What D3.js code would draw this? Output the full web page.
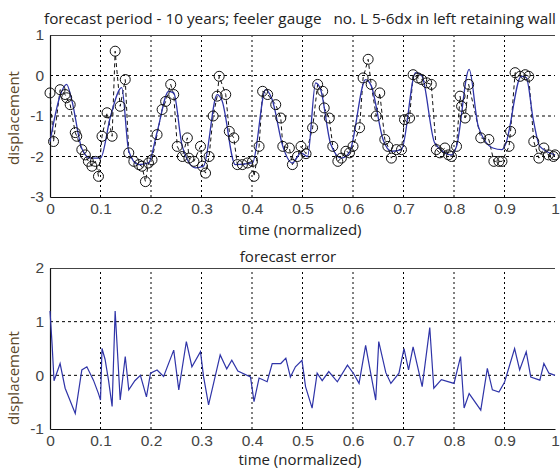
<!DOCTYPE html>
<html>
<head>
<meta charset="utf-8">
<script src="https://d3js.org/d3.v7.min.js"></script>
<style>
  body { margin: 0; background: #fff; }
  text { white-space: pre; }
</style>
</head>
<body>
<script>
// observed displacement (circles + dashed line)
var obsTime = [0,0.007,0.02,0.03,0.033,0.04,0.05,0.053,0.063,0.07,0.076,0.083,0.09,0.096,0.103,0.113,0.123,0.129,0.139,0.149,
  0.156,0.166,0.176,0.182,0.189,0.195,0.202,0.212,0.222,0.229,0.239,0.245,0.252,0.262,0.272,0.275,0.285,0.298,0.302,0.308,
  0.315,0.323,0.331,0.335,0.348,0.355,0.364,0.371,0.381,0.391,0.401,0.404,0.414,0.421,0.431,0.447,0.457,0.461,0.474,0.48,
  0.49,0.497,0.507,0.52,0.53,0.54,0.543,0.553,0.56,0.57,0.577,0.586,0.593,0.6,0.613,0.62,0.63,0.636,0.646,0.653,
  0.663,0.669,0.676,0.686,0.696,0.702,0.712,0.719,0.729,0.736,0.746,0.755,0.765,0.772,0.782,0.789,0.795,0.805,0.812,0.815,
  0.822,0.829,0.853,0.869,0.879,0.889,0.895,0.909,0.912,0.921,0.931,0.941,0.948,0.958,0.968,0.978,0.987,0.997,1.0];
var obsValue = [-0.43,-1.63,-0.35,-0.47,-0.55,-0.72,-1.41,-1.5,-1.83,-1.96,-2.12,-2.24,-2.12,-2.49,-1.5,-0.92,-1.5,0.6,-0.76,-0.1,
  -1.91,-2.12,-2.2,-2.24,-2.62,-2.16,-2.08,-1.46,-0.84,-0.64,-0.22,-0.47,-1.75,-2.0,-1.54,-2.04,-2.12,-1.75,-2.24,-2.41,
  -2.0,-1.0,-0.51,-0.02,-0.47,-1.38,-1.54,-2.2,-2.2,-2.16,-2.12,-2.49,-1.75,-0.39,-0.47,-0.72,-1.05,-1.75,-1.79,-2.2,
  -2.0,-1.75,-1.93,-1.29,-0.22,-0.39,-0.8,-1.05,-1.75,-2.12,-2.04,-1.87,-1.91,-1.75,-1.29,-0.06,0.4,-0.22,-1.0,-0.43,
  -1.58,-1.75,-2.04,-1.83,-1.83,-1.09,-1.05,0.02,-0.06,-0.1,-0.18,-0.22,-1.83,-1.91,-1.79,-1.96,-2.0,-1.75,-0.51,-0.76,
  -1.05,-0.22,-1.54,-1.58,-2.12,-2.12,-2.12,-1.75,-1.38,0.07,-0.02,0.02,-0.02,-1.63,-2.04,-1.79,-1.96,-2.0,-1.96];

// forecast (blue line)
var fcTime = [0,0.02,0.033,0.043,0.063,0.08,0.1,0.12,0.142,0.156,0.175,0.195,0.212,0.235,0.245,0.262,0.288,0.304,0.331,0.34,
  0.367,0.401,0.427,0.44,0.461,0.48,0.497,0.51,0.526,0.536,0.556,0.577,0.593,0.625,0.636,0.66,0.676,0.696,0.724,0.736,
  0.762,0.795,0.805,0.83,0.848,0.877,0.895,0.902,0.933,0.943,0.957,0.97,1.0];
var fcValue = [-1.63,-0.5,-0.22,-0.6,-1.8,-2.04,-2.04,-1.0,-0.3,-1.87,-2.2,-2.16,-1.4,-0.39,-0.43,-1.75,-2.28,-2.24,-0.47,-0.6,
  -2.2,-2.16,-0.35,-0.6,-1.75,-2.16,-1.91,-2.0,-0.18,-0.35,-1.7,-2.04,-1.9,-0.1,-0.25,-1.6,-1.87,-1.83,0.07,0.0,
  -1.67,-1.96,-1.75,0.15,-1.25,-1.79,-1.83,-1.7,-0.02,-0.05,-1.09,-1.75,-1.96];

// forecast error
var errTime = [0,0.004,0.008,0.02,0.03,0.05,0.063,0.073,0.086,0.096,0.1,0.103,0.109,0.116,0.123,0.129,0.139,0.149,0.156,0.168,
  0.179,0.191,0.199,0.212,0.225,0.245,0.255,0.27,0.281,0.298,0.304,0.314,0.337,0.35,0.36,0.372,0.397,0.404,0.414,0.43,
  0.44,0.457,0.467,0.476,0.486,0.499,0.506,0.519,0.529,0.539,0.552,0.569,0.589,0.602,0.612,0.625,0.635,0.645,0.651,0.665,
  0.675,0.691,0.701,0.71,0.719,0.737,0.752,0.76,0.775,0.8,0.813,0.82,0.83,0.853,0.866,0.876,0.889,0.9,0.92,0.93,
  0.943,0.952,0.97,0.978,0.988,1.0];
var errValue = [1.2,0.6,-0.1,0.22,-0.24,-0.71,0.1,0.16,-0.09,-0.34,-0.46,0.5,0.3,-0.1,-0.58,1.2,-0.46,0.35,-0.27,-0.1,
  0.0,-0.4,0.04,0.1,-0.02,0.47,-0.27,0.63,0.16,0.44,-0.02,-0.55,0.38,0.12,0.28,0.08,-0.03,-0.49,-0.05,-0.12,
  0.22,0.22,0.32,-0.03,0.16,0.28,-0.21,-0.61,0.04,-0.1,0.07,-0.12,0.19,0.02,-0.15,0.56,0.04,-0.46,0.63,0.05,
  -0.15,0.04,0.5,0.1,0.53,-0.21,0.89,-0.24,-0.08,-0.15,0.35,-0.61,-0.34,-0.65,0.13,-0.27,-0.31,-0.13,0.5,0.1,
  0.44,-0.03,-0.09,0.22,0.04,0.0];

var xTicks = [0, 0.1, 0.2, 0.3, 0.4, 0.5, 0.6, 0.7, 0.8, 0.9, 1];
var topYTicks = [-3, -2, -1, 0, 1];
var botYTicks = [-1, 0, 1, 2];

var W = 560, H = 468;
var svg = d3.select("body").append("svg").attr("width", W).attr("height", H);

var x = d3.scaleLinear().domain([0, 1]).range([50, 555]);

function panel(yDomain, yRange, yTicks, title, titleX, titleY, titleLen, labelY, xlabelY) {
  var y = d3.scaleLinear().domain(yDomain).range(yRange);
  var g = svg.append("g");

  // grid
  g.selectAll(".vg").data(xTicks.slice(1, -1)).enter().append("line")
    .attr("x1", d => x(d)).attr("x2", d => x(d))
    .attr("y1", yRange[0]).attr("y2", yRange[1])
    .attr("stroke", "#000").attr("stroke-width", 1).attr("stroke-dasharray", "2,3");
  g.selectAll(".hg").data(yTicks.slice(1, -1)).enter().append("line")
    .attr("x1", 50).attr("x2", 555)
    .attr("y1", d => y(d)).attr("y2", d => y(d))
    .attr("stroke", "#000").attr("stroke-width", 1).attr("stroke-dasharray", "3,3");

  // top border
  g.append("line").attr("x1", 50).attr("x2", 555)
    .attr("y1", yRange[1] + 0.5).attr("y2", yRange[1] + 0.5)
    .attr("stroke", "#444").attr("stroke-width", 1);

  var xa = g.append("g").attr("transform", "translate(0," + yRange[0] + ")")
    .call(d3.axisBottom(x).tickValues(xTicks).tickFormat(d3.format("")).tickSize(0).tickPadding(6));
  var ya = g.append("g").attr("transform", "translate(50,0)")
    .call(d3.axisLeft(y).tickValues(yTicks).tickFormat(d => d < 0 ? "-" + Math.abs(d) : d).tickSize(0).tickPadding(6));
  [xa, ya].forEach(function (a) {
    a.select(".domain").attr("stroke", "#111").attr("stroke-width", 1.2);
    a.selectAll("text").attr("font-family", "Liberation Sans, Arial, sans-serif")
      .attr("font-size", 15.5).attr("fill", "#444");
  });

  var t = g.append("text").attr("x", titleX).attr("y", titleY).attr("text-anchor", "middle")
    .attr("font-family", "Open Sans, sans-serif").attr("font-size", 15).attr("fill", "#222")
    .text(title);
  if (titleLen) t.attr("textLength", titleLen).attr("lengthAdjust", "spacingAndGlyphs");
  g.append("text").attr("x", 300).attr("y", xlabelY).attr("text-anchor", "middle")
    .attr("font-family", "Open Sans, sans-serif").attr("font-size", 15).attr("fill", "#222")
    .text("time (normalized)");
  g.append("text").attr("transform", "translate(19," + labelY + ") rotate(-90)")
    .attr("text-anchor", "middle")
    .attr("font-family", "Open Sans, sans-serif").attr("font-size", 15).attr("fill", "#5a4628")
    .text("displacement");
  return y;
}

var y1 = panel([-3, 1], [197, 35], topYTicks,
  "forecast period - 10 years; feeler gauge   no. L 5-6dx in left retaining wall", 300, 24, 512, 118, 235);
var y2 = panel([-1, 2], [429, 268], botYTicks, "forecast error", 288, 262, null, 378, 465);

var obs = obsTime.map((t, i) => [t, obsValue[i]]);
var fc = fcTime.map((t, i) => [t, fcValue[i]]);
var err = errTime.map((t, i) => [t, errValue[i]]);

svg.append("path").datum(obs)
  .attr("d", d3.line().x(d => x(d[0])).y(d => y1(d[1])))
  .attr("fill", "none").attr("stroke", "#111").attr("stroke-width", 1).attr("stroke-dasharray", "4,3");
svg.append("path").datum(fc)
  .attr("d", d3.line().curve(d3.curveMonotoneX).x(d => x(d[0])).y(d => y1(d[1])))
  .attr("fill", "none").attr("stroke", "#2f34a8").attr("stroke-width", 1.3);
svg.selectAll(".obs").data(obs).enter().append("circle")
  .attr("cx", d => x(d[0])).attr("cy", d => y1(d[1])).attr("r", 5)
  .attr("fill", "none").attr("stroke", "#111").attr("stroke-width", 1);

svg.append("path").datum(err)
  .attr("d", d3.line().x(d => x(d[0])).y(d => y2(d[1])))
  .attr("fill", "none").attr("stroke", "#2f34a8").attr("stroke-width", 1.2);
</script>
</body>
</html>
